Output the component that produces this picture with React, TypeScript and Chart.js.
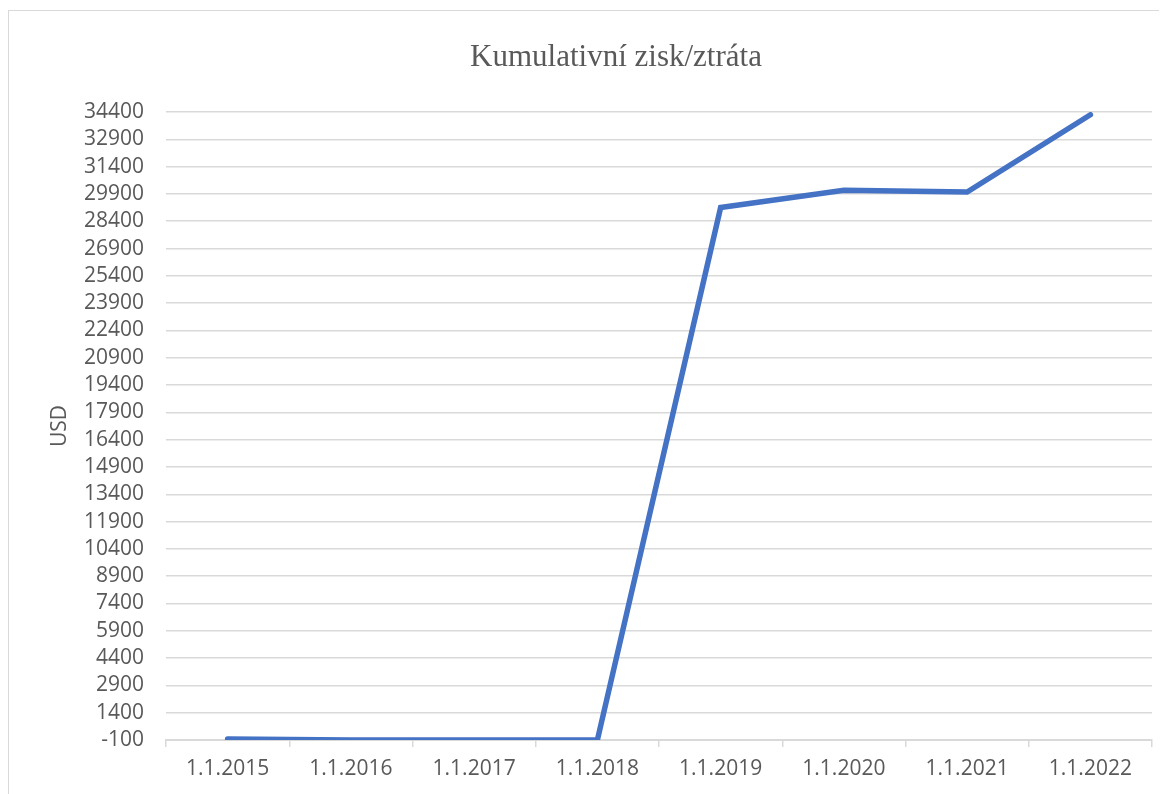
import React, { useEffect, useRef } from "react";
import { Chart, registerables } from "chart.js";

Chart.register(...registerables);

const categories = ["1.1.2015", "1.1.2016", "1.1.2017", "1.1.2018", "1.1.2019", "1.1.2020", "1.1.2021", "1.1.2022"];
const cumulativeValues = [-50, -100, -100, -100, 29150, 30100, 30000, 34250];
const yMin = -100;
const yMax = 34400;
const yStep = 1500;
const chartTitle = "Kumulativní zisk/ztráta";
const yAxisTitle = "USD";

const titlePlugin = {
  id: "customTitle",
  afterDraw(chart: any) {
    const ctx = chart.ctx;
    ctx.save();
    ctx.font = "31px 'Liberation Serif', 'Times New Roman', serif";
    ctx.fillStyle = "#595959";
    ctx.textAlign = "center";
    ctx.textBaseline = "middle";
    ctx.fillText(chartTitle, 607, 47);
    ctx.restore();
  },
};

export default function App() {
  const ref = useRef<HTMLCanvasElement | null>(null);
  useEffect(() => {
    if (!ref.current) return;
    const chart = new Chart(ref.current, {
      type: "line",
      data: {
        labels: categories,
        datasets: [
          {
            data: cumulativeValues,
            borderColor: "#4472C4",
            backgroundColor: "#4472C4",
            borderWidth: 5.5,
            pointRadius: 0,
            tension: 0,
            borderCapStyle: "round",
            borderJoinStyle: "miter",
          },
        ],
      },
      options: {
        animation: false,
        responsive: false,
        maintainAspectRatio: false,
        layout: { padding: { left: 0, right: 8, top: 101, bottom: 0 } },
        plugins: {
          legend: { display: false },
          title: { display: false },
          tooltip: { enabled: false },
        },
        scales: {
          x: {
            offset: true,
            grid: {
              offset: true,
              drawOnChartArea: false,
              drawTicks: true,
              tickLength: 7,
              color: "#d9d9d9",
              lineWidth: 1.5,
            },
            border: { display: true, color: "#d9d9d9", width: 2 },
            ticks: {
              color: "#595959",
              font: { family: "'Open Sans'", size: 21 },
              padding: 9,
              maxRotation: 0,
              autoSkip: false,
            },
            afterFit(scale: any) {
              scale.height = 71;
            },
          },
          y: {
            min: yMin,
            max: yMax,
            grid: { color: "#d9d9d9", lineWidth: 1.5, drawTicks: false },
            border: { display: false },
            ticks: {
              stepSize: yStep,
              color: "#595959",
              font: { family: "'Open Sans'", size: 21 },
              padding: 22,
              autoSkip: false,
              callback: (v: any) => String(v),
            },
            title: {
              display: true,
              text: yAxisTitle,
              color: "#595959",
              font: { family: "'Open Sans'", size: 21 },
              padding: { top: 38, bottom: 0 },
            },
            afterFit(scale: any) {
              scale.width = 157;
            },
          },
        },
      },
      plugins: [titlePlugin],
    });
    return () => chart.destroy();
  }, []);
  return (
    <div
      style={{
        marginTop: 2,
        width: 1151,
        height: 800,
        border: "1px solid #d9d9d9",
        background: "#fff",
      }}
    >
      <canvas ref={ref} width={1151} height={800} style={{ display: "block" }} />
    </div>
  );
}
